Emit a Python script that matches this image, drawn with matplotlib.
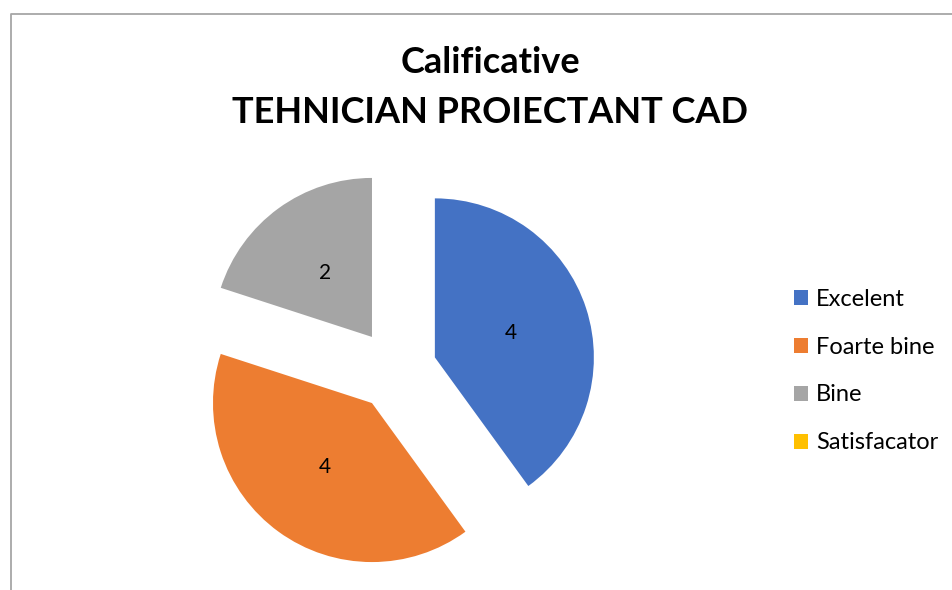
import matplotlib
matplotlib.use("Agg")
import matplotlib.pyplot as plt
from matplotlib.lines import Line2D

categories = ["Excelent", "Foarte bine", "Bine", "Satisfacator"]
values = [4, 4, 2, 0]
colors = ["#4472C4", "#ED7D31", "#A5A5A5", "#FFC000"]
title = "Calificative\nTEHNICIAN PROIECTANT CAD"

W, H = 953, 590
R = 159.0
cx, cy = 396.0, 370.0

plt.rcParams['font.family'] = ['Lato', 'DejaVu Sans']
fig = plt.figure(figsize=(W / 100, H / 100), dpi=100)
ax = fig.add_axes([0, 0, 1, 1])

total = sum(values)

def fmt(p):
    v = p * total / 100.0
    return '' if v < 0.5 else f'{v:.0f}'

wedges, texts, autotexts = ax.pie(
    values, colors=colors, startangle=90, counterclock=False,
    explode=[0.257] * len(values), autopct=fmt, pctdistance=0.5,
    textprops=dict(fontsize=15, color='black'),
    wedgeprops=dict(linewidth=0))

ax.set_xlim(-cx / R, (W - cx) / R)
ax.set_ylim(-(H - cy) / R, cy / R)
ax.set_aspect('auto')
ax.axis('off')

fig.text(490 / W, 1 - 46 / H, title, ha='center', va='top',
         fontsize=26, fontweight='bold', linespacing=1.62)

fig.legend(wedges, categories, loc='center left',
           bbox_to_anchor=(794 / W, 1 - 371 / H), frameon=False,
           fontsize=17, handlelength=0.6, handleheight=0.6,
           handletextpad=0.32, labelspacing=1.14,
           borderpad=0, borderaxespad=0)

fig.add_artist(Line2D([10.5 / W, 10.5 / W, 1.0], [0.0, 1 - 13.5 / H, 1 - 13.5 / H],
                      transform=fig.transFigure, color='#A6A6A6', linewidth=1.3))

fig.savefig("out.png", dpi=100)
